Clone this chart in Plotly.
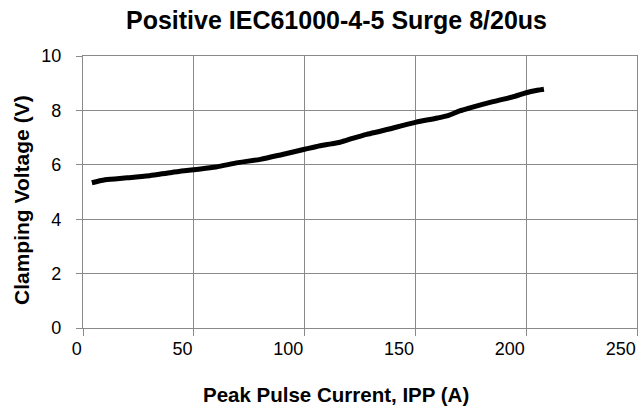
import plotly.graph_objects as go

current_a = [4, 10, 20, 30, 40, 50, 60, 70, 80, 90, 100, 107, 112, 116, 122, 128, 135, 150, 160, 165, 170, 175, 185, 195, 200, 205, 208]
clamp_v = [5.34, 5.45, 5.52, 5.6, 5.72, 5.82, 5.92, 6.08, 6.2, 6.38, 6.57, 6.7, 6.77, 6.83, 6.98, 7.12, 7.25, 7.56, 7.72, 7.82, 7.98, 8.1, 8.32, 8.52, 8.65, 8.74, 8.78]

x_ticks = [0, 50, 100, 150, 200, 250]
y_ticks = [0, 2, 4, 6, 8, 10]

grid = "#8a8a8a"
font = "Liberation Sans, Arial, sans-serif"

fig = go.Figure()
fig.add_trace(go.Scatter(
    x=current_a, y=clamp_v, mode="lines",
    line=dict(color="black", width=5, shape="spline", smoothing=0.8),
    showlegend=False, hoverinfo="skip",
))

fig.update_layout(
    width=642, height=409, autosize=False,
    margin=dict(l=83, r=5, t=56, b=81),
    paper_bgcolor="white", plot_bgcolor="white",
    font=dict(family=font, size=18, color="black"),
    title=dict(text="<b>Positive IEC61000-4-5 Surge 8/20us</b>",
               x=336.5 / 642, xanchor="center", xref="container",
               y=1 - 20 / 409, yanchor="middle", yref="container",
               font=dict(size=25, family=font, color="black")),
    annotations=[
        dict(text="<b>Peak Pulse Current, IPP (A)</b>", xref="paper", yref="paper",
             x=(336 - 83) / (637 - 83), y=-(394 - 328) / (328 - 56),
             xanchor="center", yanchor="middle", showarrow=False,
             font=dict(size=20.5, family=font, color="black")),
        dict(text="<b>Clamping Voltage (V)</b>", xref="paper", yref="paper",
             x=-(83 - 21) / (637 - 83), y=(328 - 200) / (328 - 56),
             xanchor="center", yanchor="middle", showarrow=False, textangle=-90,
             font=dict(size=21, family=font, color="black")),
    ],
)
fig.update_xaxes(
    range=[0, 250], tickvals=x_ticks, ticktext=[str(v) for v in x_ticks],
    showgrid=True, gridcolor=grid, gridwidth=1.3,
    showline=True, linecolor=grid, linewidth=1.3, mirror=True,
    ticks="outside", ticklen=7, tickcolor=grid, tickwidth=1.3,
    ticklabelposition="outside left", ticklabelstandoff=4,
    zeroline=False, automargin=False,
    tickfont=dict(size=18, family=font, color="black"),
)
fig.update_yaxes(
    range=[0, 10], tickvals=y_ticks, ticktext=[str(v) for v in y_ticks],
    showgrid=True, gridcolor=grid, gridwidth=1.3,
    showline=True, linecolor=grid, linewidth=1.3, mirror=True,
    ticks="outside", ticklen=6, tickcolor=grid, tickwidth=1.3,
    ticklabelstandoff=11,
    zeroline=False, automargin=False,
    tickfont=dict(size=18, family=font, color="black"),
)

fig.write_html("out.html", config={"displayModeBar": False},
               post_script="document.body.style.margin='0';document.body.style.padding='0';")
